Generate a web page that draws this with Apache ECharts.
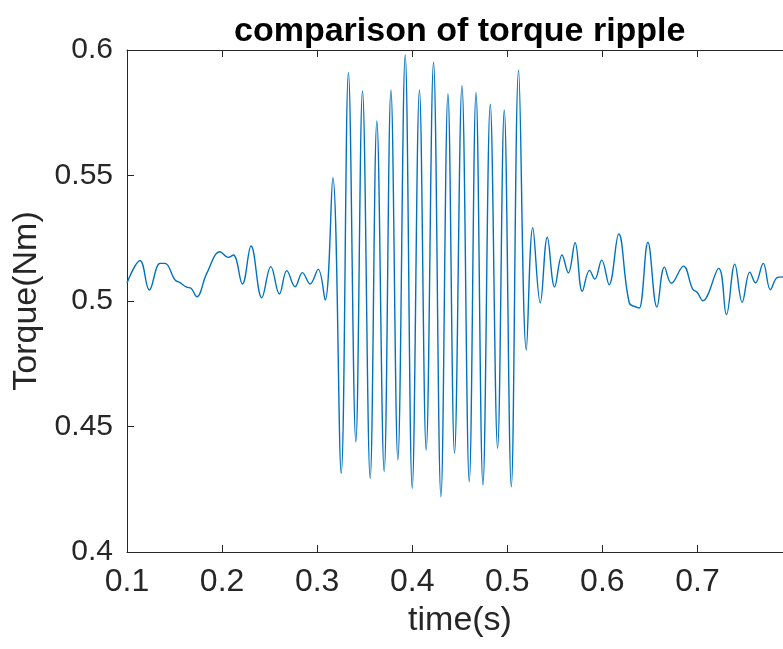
<!DOCTYPE html>
<html>
<head>
<meta charset="utf-8">
<script src="https://cdn.jsdelivr.net/npm/echarts@6/dist/echarts.min.js"></script>
<style>
  html, body { margin: 0; padding: 0; background: #fff; }
  #chart { width: 783px; height: 649px; }
</style>
</head>
<body>
<div id="chart"></div>
<script>
// time samples (s) at the turning points of the curve
const time = [
  0.1000, 0.1137, 0.1235, 0.1347, 0.1400, 0.1505, 0.1558, 0.1628, 0.1674, 0.1734,
  0.1839, 0.1979, 0.2066, 0.2119, 0.2214, 0.2305, 0.2418, 0.2513, 0.2603, 0.2681,
  0.2768, 0.2845, 0.2926, 0.3011, 0.3084, 0.3165, 0.3253, 0.3329, 0.3407, 0.3477,
  0.3558, 0.3628, 0.3705, 0.3776, 0.3849, 0.3926, 0.4000, 0.4076, 0.4147, 0.4224,
  0.4302, 0.4376, 0.4445, 0.4523, 0.4600, 0.4671, 0.4744, 0.4821, 0.4898, 0.4968,
  0.5042, 0.5119, 0.5200, 0.5268, 0.5347, 0.5421, 0.5498, 0.5576, 0.5642, 0.5713,
  0.5789, 0.5865, 0.5921, 0.5993, 0.6071, 0.6172, 0.6284, 0.6363, 0.6389, 0.6479,
  0.6574, 0.6653, 0.6726, 0.6853, 0.6949, 0.6997, 0.7056, 0.7224, 0.7305, 0.7393,
  0.7471, 0.7551, 0.7611, 0.7692, 0.7768, 0.7842, 0.7905
];
// torque (Nm)
const torque = [
  0.5072, 0.5161, 0.5044, 0.5150, 0.5150, 0.5084, 0.5073, 0.5055, 0.5051, 0.5017,
  0.5110, 0.5196, 0.5174, 0.5183, 0.5068, 0.5219, 0.5013, 0.5137, 0.5028, 0.5121,
  0.5057, 0.5113, 0.5068, 0.5126, 0.5004, 0.5491, 0.4314, 0.5911, 0.4439, 0.5837,
  0.4294, 0.5717, 0.4320, 0.5841, 0.4367, 0.5980, 0.4254, 0.5841, 0.4406, 0.5951,
  0.4220, 0.5825, 0.4393, 0.5858, 0.4280, 0.5831, 0.4267, 0.5784, 0.4413, 0.5761,
  0.4260, 0.5920, 0.4805, 0.5292, 0.4993, 0.5254, 0.5056, 0.5183, 0.5112, 0.5232,
  0.5039, 0.5122, 0.5087, 0.5163, 0.5065, 0.5267, 0.4992, 0.4975, 0.4972, 0.5234,
  0.4976, 0.5135, 0.5071, 0.5139, 0.5048, 0.5035, 0.5001, 0.5130, 0.4946, 0.5147,
  0.4995, 0.5115, 0.5072, 0.5150, 0.5045, 0.5094, 0.5096
];
const xTicks = [0.1, 0.2, 0.3, 0.4, 0.5, 0.6, 0.7];
const yTicks = [0.4, 0.45, 0.5, 0.55, 0.6];

const axisColor = '#262626';
const font = 'Liberation Sans, Arial, sans-serif';

const chart = echarts.init(document.getElementById('chart'), null, { renderer: 'canvas' });

const option = {
  backgroundColor: '#fff',
  animation: false,
  title: {
    text: 'comparison of torque ripple',
    left: 229,
    top: 10,
    textStyle: { fontFamily: font, fontWeight: 'bold', fontSize: 34, color: '#000' }
  },
  grid: { left: 127, top: 50, right: 0, bottom: 97, containLabel: false },
  xAxis: [
    {
      type: 'value',
      min: 0.1,
      max: 0.79,
      interval: 0.1,
      name: 'time(s)',
      nameLocation: 'middle',
      nameGap: 52,
      nameTextStyle: { fontFamily: font, fontSize: 34, color: axisColor, padding: [0, 0, 0, 10] },
      axisLine: { lineStyle: { color: axisColor, width: 1 } },
      axisTick: { inside: true, length: 7, lineStyle: { color: axisColor } },
      axisLabel: {
        showMaxLabel: false,
        margin: 14,
        fontFamily: font, fontSize: 32, color: axisColor,
        formatter: v => xTicks.includes(+v.toFixed(2)) ? String(+v.toFixed(2)) : ''
      },
      splitLine: { show: false }
    },
    {
      type: 'value',
      position: 'top',
      min: 0.1,
      max: 0.79,
      interval: 0.1,
      axisLine: { lineStyle: { color: axisColor, width: 1 } },
      axisTick: { inside: true, length: 7, lineStyle: { color: axisColor } },
      axisLabel: { show: false },
      splitLine: { show: false }
    }
  ],
  yAxis: {
    type: 'value',
    min: 0.4,
    max: 0.6,
    interval: 0.05,
    name: 'Torque(Nm)',
    nameLocation: 'middle',
    nameGap: 69,
    nameRotate: 90,
    nameTextStyle: { fontFamily: font, fontSize: 34, color: axisColor },
    axisLine: { show: true, lineStyle: { color: axisColor, width: 1 } },
    axisTick: { show: true, inside: true, length: 7, lineStyle: { color: axisColor } },
    axisLabel: {
      margin: 14,
      fontFamily: font, fontSize: 30, color: axisColor,
      formatter: v => yTicks.includes(+v.toFixed(2)) ? String(+v.toFixed(2)) : ''
    },
    splitLine: { show: false }
  },
  series: [
    {
      type: 'line',
      data: time.map((t, i) => [t, torque[i]]),
      showSymbol: false,
      smooth: 0.4,
      clip: true,
      lineStyle: { color: '#0072BD', width: 1.4 }
    }
  ]
};

chart.setOption(option);
</script>
</body>
</html>
